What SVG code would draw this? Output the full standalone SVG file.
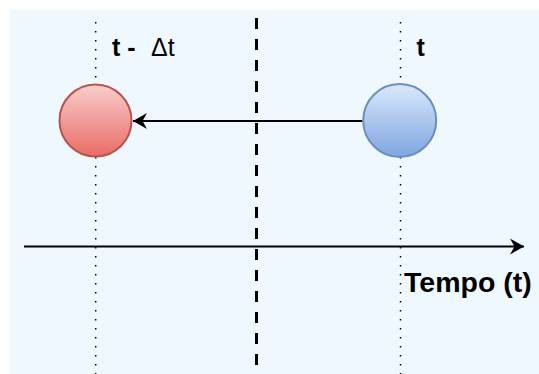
<svg xmlns="http://www.w3.org/2000/svg" width="539" height="374" viewBox="0 0 539 374">
  <style>
    .dot { stroke: #000; stroke-width: 1.5; stroke-dasharray: 1.5 7.5; fill: none; }
    .dash { stroke: #000; stroke-width: 3; stroke-dasharray: 11 10; fill: none; }
    .conn { stroke: #000; stroke-width: 2; fill: none; }
    .lbl { font-family: "Liberation Sans", Arial, sans-serif; font-size: 25px; fill: #000; }
    .b { font-weight: bold; }
  </style>
  <defs>
    <linearGradient id="gRed" x1="0" y1="0" x2="0" y2="1">
      <stop offset="0" stop-color="#f8cecc"/>
      <stop offset="1" stop-color="#ea6b66"/>
    </linearGradient>
    <linearGradient id="gBlue" x1="0" y1="0" x2="0" y2="1">
      <stop offset="0" stop-color="#dae8fc"/>
      <stop offset="1" stop-color="#7ea6e0"/>
    </linearGradient>
    <marker id="arr" markerWidth="16" markerHeight="18" refX="14" refY="9" orient="auto" markerUnits="userSpaceOnUse">
      <path d="M14,9 L0,1 L4.5,9 L0,17 Z" fill="#000"/>
    </marker>
  </defs>
  <rect id="background" x="9.5" y="10" width="530" height="364" fill="#f0f8ff"/>
  <g id="guides">
    <line class="dot" x1="95.7" y1="22" x2="95.7" y2="374"/>
    <line class="dot" x1="400.5" y1="22" x2="400.5" y2="374"/>
    <line class="dash" x1="256.5" y1="18" x2="256.5" y2="374"/>
  </g>
  <g id="connectors">
    <line class="conn" x1="362.5" y1="121" x2="133" y2="121" marker-end="url(#arr)"/>
    <line class="conn" x1="24" y1="246.5" x2="524" y2="246.5" marker-end="url(#arr)"/>
  </g>
  <g id="node-red">
    <circle cx="95.5" cy="120.5" r="36" fill="url(#gRed)" stroke="#b85450" stroke-width="2"/>
  </g>
  <g id="node-blue">
    <circle cx="399.7" cy="120.5" r="36.5" fill="url(#gBlue)" stroke="#6c8ebf" stroke-width="2"/>
  </g>
  <g id="labels">
    <text class="lbl" x="112" y="56"><tspan class="b">t -</tspan><tspan x="151">Δt</tspan></text>
    <text class="lbl b" x="416.5" y="56">t</text>
    <text class="lbl b" x="404" y="292" style="font-size:28.5px">Tempo (t)</text>
  </g>
</svg>
